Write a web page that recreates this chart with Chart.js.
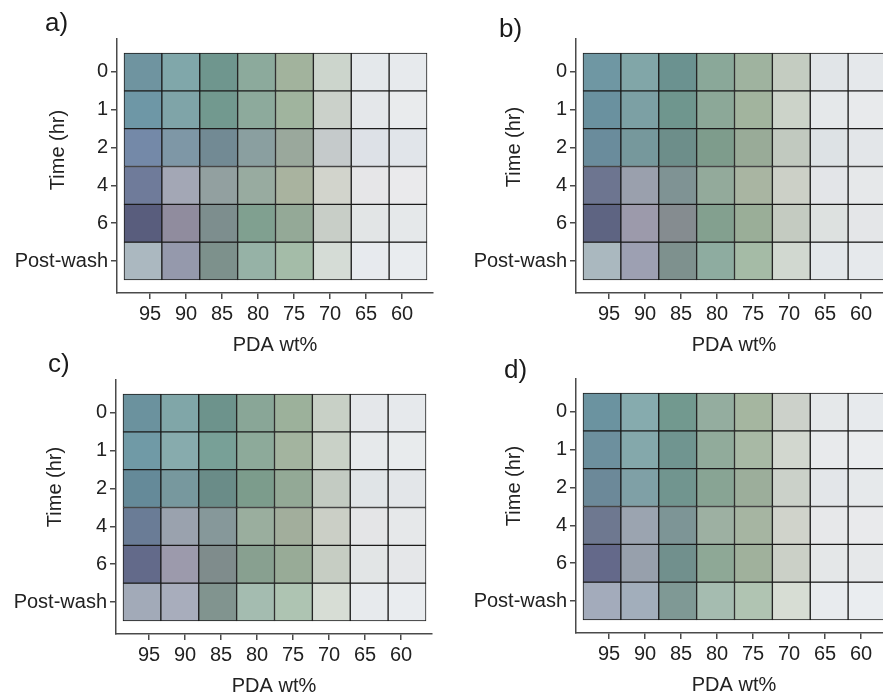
<!DOCTYPE html>
<html>
<head>
<meta charset="utf-8">
<script src="https://cdn.jsdelivr.net/npm/chart.js@4.4.1/dist/chart.umd.min.js"></script>
<style>
  html, body { margin: 0; padding: 0; }
  body { width: 883px; height: 695px; overflow: hidden; background: #ffffff; position: relative;
         font-family: "Liberation Sans", Arial, sans-serif; color: #222; }
  canvas.panel { position: absolute; }
  .letter { position: absolute; font-size: 26px; line-height: 26px; color: #1a1a1a; }
  .ytitle { position: absolute; font-size: 20px; line-height: 24px; color: #222; white-space: nowrap;
            transform: translate(-50%, -50%) rotate(-90deg); }
</style>
</head>
<body>
<script>
// ---------- data ----------
const pdaWt = ['95', '90', '85', '80', '75', '70', '65', '60'];
const timeLabels = ['0', '1', '2', '4', '6', 'Post-wash'];
const panelLetters = ['a)', 'b)', 'c)', 'd)'];
const xAxisTitle = 'PDA wt%';
const yAxisTitle = 'Time (hr)';

// cell colours, rows = time (0,1,2,4,6,Post-wash), columns = PDA wt% (95 ... 60)
const colorsA = [
  ['#6f94a0', '#80a7aa', '#6f968e', '#8caa9c', '#a2b39d', '#ccd5cc', '#e4e8eb', '#e7eaed'],
  ['#6e97a6', '#7fa4a8', '#72998f', '#8daa9c', '#a0b49e', '#cbd1ca', '#e4e7ea', '#e9ebed'],
  ['#7489a8', '#7e97a6', '#728a94', '#8a9fa0', '#9aa89c', '#c5cacb', '#dde1e7', '#e1e5ea'],
  ['#6f7b9a', '#a3a7b5', '#92a0a0', '#98aba0', '#a9b39f', '#d2d4cc', '#e6e6e8', '#eaeaec'],
  ['#595d7d', '#908c9e', '#7d8e8e', '#80a090', '#94a997', '#c8cec7', '#e2e5e6', '#e5e8ea'],
  ['#abb8c0', '#9599ac', '#7d918c', '#96b2a6', '#a4bca8', '#d5dcd6', '#e7eaee', '#e9ecef']
];
const colorsB = [
  ['#6f97a3', '#81a6a8', '#6b9290', '#8aa899', '#9fb39f', '#c4ccc1', '#e1e5e8', '#e5e8eb'],
  ['#6a919f', '#7ca0a4', '#6f968e', '#8ca898', '#a2b49e', '#ccd3c9', '#e5e8ea', '#e8eaec'],
  ['#6a8c9c', '#76989c', '#6d8e8a', '#7e9c8c', '#99ab98', '#c1c9bf', '#dde2e5', '#e3e6e9'],
  ['#6d7590', '#9aa0ad', '#7f9394', '#93aa9b', '#a9b5a2', '#ccd0c7', '#e3e5e8', '#e6e8ea'],
  ['#5e6482', '#9c9aab', '#858c90', '#83a08f', '#9aae98', '#c4cbc1', '#dde1e0', '#e4e6e8'],
  ['#aab8bf', '#9da0b2', '#7e918e', '#8eaca0', '#a5bba6', '#d1d8d0', '#e3e7ea', '#e6e9ec']
];
const colorsC = [
  ['#6b929e', '#80a6a8', '#6d938c', '#89a697', '#9cb19b', '#c8d0c6', '#e4e7ea', '#e6e9ec'],
  ['#709aa6', '#87abad', '#78a097', '#8daa9a', '#a3b49f', '#c9d1c7', '#e6e9eb', '#e8ebed'],
  ['#658a99', '#77989e', '#6a8c88', '#7c9c8c', '#93a996', '#c3cbc2', '#e0e4e7', '#e3e6e9'],
  ['#6a7c96', '#9aa2ae', '#86989a', '#9aae9e', '#a2ae9c', '#cbcfc6', '#e4e5e7', '#e6e8ea'],
  ['#636a8a', '#9c9aac', '#7f8c8c', '#88a090', '#98ab97', '#c6cdc3', '#e2e5e6', '#e5e7e9'],
  ['#a2aab8', '#a8adbc', '#81948f', '#a4bcb0', '#aec4b2', '#d7ddd5', '#e7eaed', '#e9ecef']
];
const colorsD = [
  ['#6b93a0', '#86abae', '#72998f', '#94ad9f', '#a5b6a0', '#ccd1ca', '#e5e8ea', '#e7eaed'],
  ['#6d909e', '#84a8ab', '#709590', '#91ab9b', '#a8b9a5', '#d2d7cf', '#e8eaec', '#eaecee'],
  ['#6c8999', '#7fa0a6', '#71958f', '#88a494', '#9cae9b', '#cbd1c9', '#e3e6e9', '#e6e9eb'],
  ['#6e7890', '#9ba4b0', '#7d9596', '#9db0a2', '#a6b5a2', '#d0d3cb', '#e7e8ea', '#e9eaec'],
  ['#64698a', '#97a0ac', '#71908d', '#8ea896', '#a0b19c', '#cbd0c7', '#e4e7e8', '#e6e8ea'],
  ['#a3abbb', '#a2aebb', '#7f9995', '#a5bcb0', '#b0c4b2', '#d7ddd4', '#e8ebee', '#eaedf0']
];

// ---------- layout (page positions of each panel) ----------
const panelLayout = [
  { colors: colorsA, left: 0,   top: 0,   letterX: 45,  letterY: 9,   titleX: 57,  titleY: 150 },
  { colors: colorsB, left: 459, top: 0,   letterX: 499, letterY: 15,  titleX: 513, titleY: 147 },
  { colors: colorsC, left: -1,  top: 341, letterX: 48,  letterY: 350, titleX: 54,  titleY: 487 },
  { colors: colorsD, left: 459, top: 340, letterX: 504, letterY: 356, titleX: 513, titleY: 486 }
];

const CW = 460, CH = 360;
Chart.defaults.font.family = '"Liberation Sans", Arial, sans-serif';
Chart.defaults.color = '#222';
const axisColor = '#4a4a4a';

panelLayout.forEach((p, k) => {
  const cv = document.createElement('canvas');
  cv.className = 'panel';
  cv.width = CW; cv.height = CH;
  cv.style.left = p.left + 'px'; cv.style.top = p.top + 'px';
  cv.style.width = CW + 'px'; cv.style.height = CH + 'px';
  document.body.appendChild(cv);

  const lt = document.createElement('div');
  lt.className = 'letter';
  lt.textContent = panelLetters[k];
  lt.style.left = p.letterX + 'px'; lt.style.top = p.letterY + 'px';
  document.body.appendChild(lt);

  const yt = document.createElement('div');
  yt.className = 'ytitle';
  yt.textContent = yAxisTitle;
  yt.style.left = p.titleX + 'px'; yt.style.top = p.titleY + 'px';
  document.body.appendChild(yt);

  const datasets = timeLabels.map((t, r) => ({
    label: t,
    data: pdaWt.map((w, c) => ({ x: c + 0.5, y: [r, r + 1] })),
    backgroundColor: p.colors[r],
    borderColor: '#1c1c1c',
    borderWidth: 1,
    borderSkipped: false,
    barPercentage: 1,
    categoryPercentage: 1,
    grouped: false,
    xAxisID: 'x',
    yAxisID: 'y'
  }));

  new Chart(cv, {
    type: 'bar',
    data: { datasets },
    options: {
      responsive: false,
      animation: false,
      devicePixelRatio: 1,
      layout: { padding: { left: 0, top: 39, right: CW - 433, bottom: CH - 293 - 64 } },
      plugins: { legend: { display: false }, tooltip: { enabled: false }, title: { display: false } },
      scales: {
        x: {
          type: 'linear', display: false, offset: false,
          min: -7 / 37.875, max: 8 + 6 / 37.875
        },
        xt: {
          type: 'linear', position: 'bottom', offset: false,
          min: -33 / 36, max: 7 + 31 / 36,
          afterBuildTicks: (s) => { s.ticks = pdaWt.map((w, i) => ({ value: i })); },
          afterFit: (s) => { s.height = 64; },
          ticks: {
            autoSkip: false, maxRotation: 0, padding: 3,
            font: { size: 20 }, color: '#222',
            callback: (v, i) => pdaWt[i]
          },
          grid: { offset: false, drawOnChartArea: false, drawTicks: true, tickLength: 6, color: axisColor, lineWidth: 1.5 },
          border: { display: true, color: axisColor, width: 1.5 },
          title: { display: true, text: xAxisTitle, font: { size: 20 }, color: '#222', padding: { top: 0, bottom: 0 } }
        },
        y: {
          type: 'linear', reverse: true, offset: false,
          min: -14 / 37.83, max: 6 + 13 / 37.83,
          afterBuildTicks: (s) => { s.ticks = timeLabels.map((t, i) => ({ value: i + 0.5 })); },
          afterFit: (s) => { s.width = 117; },
          ticks: {
            autoSkip: false, padding: 3,
            font: { size: 20 }, color: '#222',
            callback: (v, i) => timeLabels[i]
          },
          grid: { offset: false, drawOnChartArea: false, drawTicks: true, tickLength: 6, color: axisColor, lineWidth: 1.5 },
          border: { display: true, color: axisColor, width: 1.5 },
          title: { display: false }
        }
      }
    }
  });
});
</script>
</body>
</html>
